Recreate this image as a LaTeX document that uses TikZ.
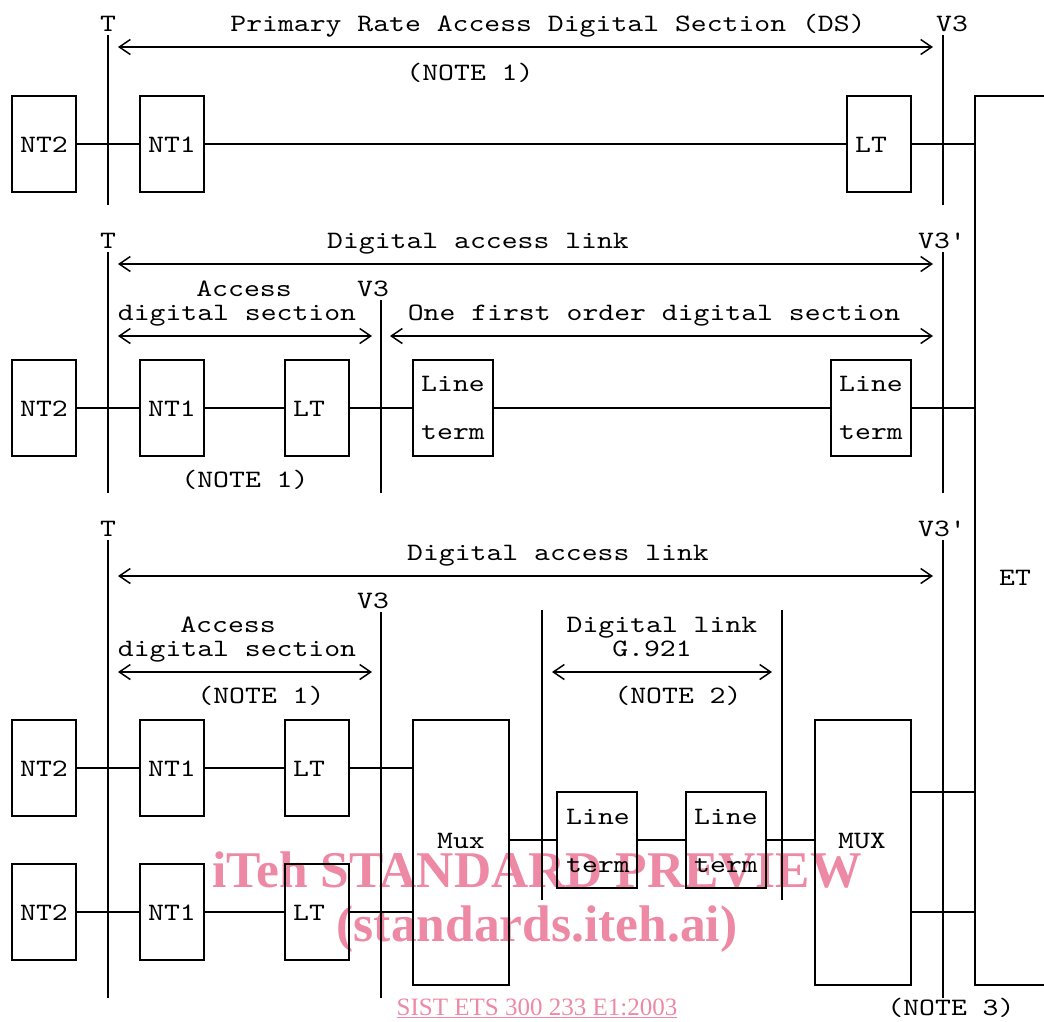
\documentclass[tikz,border=0pt]{standalone}
\usepackage{fontspec}
\usetikzlibrary{arrows.meta}
\newfontfamily\monofnt[FakeStretch=1.21]{lmmono10-regular.otf}
\newfontfamily\wmfont{Liberation Serif}
\definecolor{wmpink}{RGB}{237,137,165}
\tikzset{
  lw/.style={line width=1.8pt},
  txt/.style={font=\monofnt\fontsize{25}{25}\selectfont, inner sep=0pt, anchor=base},
  unitbox/.style={draw, lw, inner sep=0pt, minimum width=64pt, minimum height=96pt},
  linebox/.style={draw, lw, inner sep=0pt, minimum width=80pt, minimum height=96pt},
  muxbox/.style={draw, lw, inner sep=0pt, minimum width=96pt, minimum height=265pt},
  wire/.style={lw},
  refline/.style={lw},
  span/.style={line width=1.5pt, {Straight Barb[length=11pt,width=15pt,line width=1.5pt]}-{Straight Barb[length=11pt,width=15pt,line width=1.5pt]}},
  wm/.style={text=wmpink, inner sep=0pt}
}
\begin{document}
\begin{tikzpicture}[x=1pt,y=-1pt]
\useasboundingbox (0,0) rectangle (1044,1021);
% watermark
\node[wm] (wm1) at (537,870) {\wmfont\bfseries\fontsize{51.5}{51.5}\selectfont iTeh STANDARD PREVIEW};
\node[wm] (wm2) at (537,929) {\wmfont\bfseries\fontsize{51.5}{51.5}\selectfont (standards.iteh.ai)};
\node[wm] (wm3) at (537,1008) {\wmfont\fontsize{25}{25}\selectfont\underline{SIST ETS 300 233 E1:2003}};

% ===== ET =====
\coordinate (etA) at (1044,96);
\coordinate (etB) at (975,96);
\coordinate (etC) at (975,985);
\coordinate (etD) at (1044,985);
\draw[lw] (etA) -- (etB) -- (etC) -- (etD);
\node[txt] (etl) at (1015,585) {ET};

% ===== ROW 1 =====
\coordinate (t1a) at (108,35); \coordinate (t1b) at (108,205);
\coordinate (v1a) at (943,35); \coordinate (v1b) at (943,205);
\draw[refline] (t1a) -- (t1b);
\draw[refline] (v1a) -- (v1b);
\node[txt] (t1l) at (108,31) {T};
\node[txt] (v1l) at (952,31) {V3};
\node[txt] (dsl) at (548,31) {Primary Rate Access Digital Section (DS)};
\coordinate (a1l) at (118,47); \coordinate (a1r) at (933,47);
\draw[span] (a1l) -- (a1r);
\node[txt] (n1l) at (470,80) {(NOTE 1)};
\node[unitbox] (r1nt2) at (44,144) {};
\node[unitbox] (r1nt1) at (172,144) {};
\node[unitbox] (r1lt) at (879,144) {};
\node[txt] at (44,152) {NT2};
\node[txt] at (172,152) {NT1};
\node[txt] at (871,152) {LT};
\coordinate (e1) at (975,144);
\draw[wire] (r1nt2.east) -- (r1nt1.west);
\draw[wire] (r1nt1.east) -- (r1lt.west);
\draw[wire] (r1lt.east) -- (e1);

% ===== ROW 2 =====
\coordinate (t2a) at (108,252); \coordinate (t2b) at (108,493);
\coordinate (v2a) at (943,252); \coordinate (v2b) at (943,493);
\coordinate (m2a) at (381,300); \coordinate (m2b) at (381,493);
\draw[refline] (t2a) -- (t2b);
\draw[refline] (v2a) -- (v2b);
\draw[refline] (m2a) -- (m2b);
\node[txt] at (108,248) {T};
\node[txt] at (942,248) {V3'};
\node[txt] at (478,248) {Digital access link};
\coordinate (a2l) at (118,264); \coordinate (a2r) at (933,264);
\draw[span] (a2l) -- (a2r);
\node[txt] at (244,296) {Access};
\node[txt] at (373,296) {V3};
\node[txt] at (237,320) {digital section};
\node[txt] at (654,320) {One first order digital section};
\coordinate (a3l) at (118,336); \coordinate (a3r) at (372,336);
\draw[span] (a3l) -- (a3r);
\coordinate (a4l) at (390,336); \coordinate (a4r) at (933,336);
\draw[span] (a4l) -- (a4r);
\node[unitbox] (r2nt2) at (44,408) {};
\node[unitbox] (r2nt1) at (172,408) {};
\node[unitbox] (r2lt) at (317,408) {};
\node[linebox] (r2lta) at (453,408) {};
\node[linebox] (r2ltb) at (871,408) {};
\node[txt] at (44,416) {NT2};
\node[txt] at (172,416) {NT1};
\node[txt] at (309,416) {LT};
\node[txt] at (453,391) {Line};
\node[txt] at (453,439) {term};
\node[txt] at (871,391) {Line};
\node[txt] at (871,439) {term};
\node[txt] at (245,487) {(NOTE 1)};
\coordinate (e2) at (975,408);
\draw[wire] (r2nt2.east) -- (r2nt1.west);
\draw[wire] (r2nt1.east) -- (r2lt.west);
\draw[wire] (r2lt.east) -- (r2lta.west);
\draw[wire] (r2lta.east) -- (r2ltb.west);
\draw[wire] (r2ltb.east) -- (e2);

% ===== ROW 3 =====
\coordinate (t3a) at (108,540); \coordinate (t3b) at (108,998);
\coordinate (v3a) at (943,540); \coordinate (v3b) at (943,998);
\coordinate (m3a) at (381,612); \coordinate (m3b) at (381,998);
\coordinate (g1a) at (542,610); \coordinate (g1b) at (542,900);
\coordinate (g2a) at (782,610); \coordinate (g2b) at (782,900);
\draw[refline] (t3a) -- (t3b);
\draw[refline] (v3a) -- (v3b);
\draw[refline] (m3a) -- (m3b);
\draw[refline] (g1a) -- (g1b);
\draw[refline] (g2a) -- (g2b);
\node[txt] at (108,536) {T};
\node[txt] at (942,536) {V3'};
\node[txt] at (558,560) {Digital access link};
\coordinate (a5l) at (118,576); \coordinate (a5r) at (933,576);
\draw[span] (a5l) -- (a5r);
\node[txt] at (373,608) {V3};
\node[txt] at (228,632) {Access};
\node[txt] at (237,656) {digital section};
\coordinate (a6l) at (118,672); \coordinate (a6r) at (372,672);
\draw[span] (a6l) -- (a6r);
\node[txt] at (261,703) {(NOTE 1)};
\node[txt] at (662,632) {Digital link};
\node[txt] at (652,656) {G.921};
\coordinate (a7l) at (552,672); \coordinate (a7r) at (772,672);
\draw[span] (a7l) -- (a7r);
\node[txt] at (678,703) {(NOTE 2)};

\node[unitbox] (r3nt2a) at (44,768) {};
\node[unitbox] (r3nt1a) at (172,768) {};
\node[unitbox] (r3lta) at (317,768) {};
\node[unitbox] (r3nt2b) at (44,912) {};
\node[unitbox] (r3nt1b) at (172,912) {};
\node[unitbox] (r3ltb) at (317,912) {};
\node[txt] at (44,776) {NT2};
\node[txt] at (172,776) {NT1};
\node[txt] at (309,776) {LT};
\node[txt] at (44,920) {NT2};
\node[txt] at (172,920) {NT1};
\node[txt] at (309,920) {LT};
\node[muxbox] (mux1) at (461,852.5) {};
\node[muxbox] (mux2) at (863,852.5) {};
\node[txt] at (461,848) {Mux};
\node[txt] at (862,848) {MUX};
\node[linebox] (lt3a) at (597,840) {};
\node[linebox] (lt3b) at (726,840) {};
\node[txt] at (598,824) {Line};
\node[txt] at (598,872) {term};
\node[txt] at (726,824) {Line};
\node[txt] at (726,872) {term};
\coordinate (m1in1) at (413,768);
\coordinate (m1in2) at (413,912);
\coordinate (m1out) at (509,840);
\coordinate (m2in) at (815,840);
\coordinate (m2o1) at (911,792);
\coordinate (m2o2) at (911,912);
\coordinate (e3) at (975,792);
\coordinate (e4) at (975,912);
\draw[wire] (r3nt2a.east) -- (r3nt1a.west);
\draw[wire] (r3nt1a.east) -- (r3lta.west);
\draw[wire] (r3lta.east) -- (m1in1);
\draw[wire] (r3nt2b.east) -- (r3nt1b.west);
\draw[wire] (r3nt1b.east) -- (r3ltb.west);
\draw[wire] (r3ltb.east) -- (m1in2);
\draw[wire] (m1out) -- (lt3a.west);
\draw[wire] (lt3a.east) -- (lt3b.west);
\draw[wire] (lt3b.east) -- (m2in);
\draw[wire] (m2o1) -- (e3);
\draw[wire] (m2o2) -- (e4);
\node[txt] at (951,1015) {(NOTE 3)};
\end{tikzpicture}
\end{document}
